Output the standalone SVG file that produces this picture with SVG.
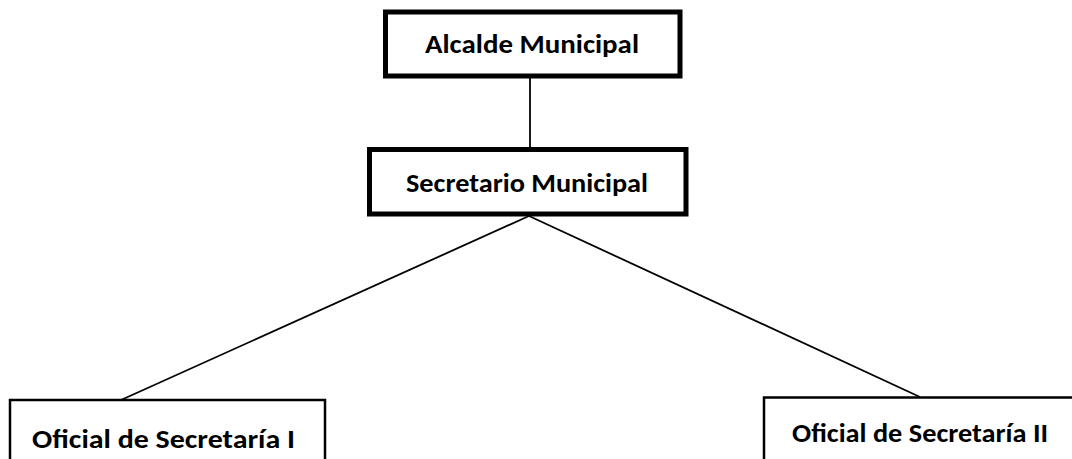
<svg xmlns="http://www.w3.org/2000/svg" width="1072" height="459" viewBox="0 0 1072 459">
<style>
.box{fill:#fff;stroke:#000}
.thick{stroke-width:5}
.thin{stroke-width:2.5}
.lbl{font-family:Carlito,Calibri,Lato,"Liberation Sans",sans-serif;font-weight:bold;font-size:27px;fill:#000}
.conn{stroke:#000;stroke-width:1.8;fill:none}
</style>
<rect width="1072" height="459" fill="#fff"/>
<g id="connectors">
<line class="conn" x1="530" y1="78" x2="530" y2="148"/>
<line class="conn" x1="529" y1="216" x2="121" y2="400"/>
<line class="conn" x1="529" y1="216" x2="920" y2="397"/>
</g>
<g id="alcalde">
<rect class="box thick" x="385.5" y="12" width="294.5" height="64"/>
<text class="lbl" x="425" y="53" textLength="214" lengthAdjust="spacingAndGlyphs">Alcalde Municipal</text>
</g>
<g id="secretario">
<rect class="box thick" x="369.5" y="149.5" width="316.5" height="64.5"/>
<text class="lbl" x="406" y="192" textLength="242" lengthAdjust="spacingAndGlyphs">Secretario Municipal</text>
</g>
<g id="oficial1">
<rect class="box thin" x="10" y="400" width="315" height="80"/>
<text class="lbl" x="32" y="448" textLength="263" lengthAdjust="spacingAndGlyphs">Oficial de Secretaría I</text>
</g>
<g id="oficial2">
<rect class="box thin" x="764" y="397.5" width="320" height="80"/>
<text class="lbl" x="792" y="442" textLength="256" lengthAdjust="spacingAndGlyphs">Oficial de Secretaría II</text>
</g>
</svg>
